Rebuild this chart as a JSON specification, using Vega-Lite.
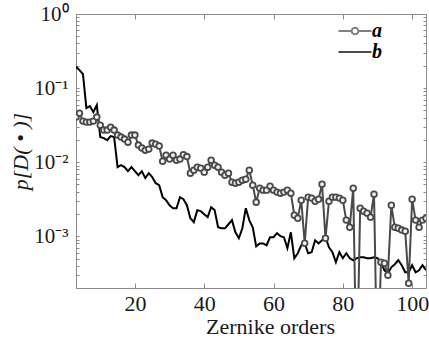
{
  "$schema": "https://vega.github.io/schema/vega-lite/v6.json",
  "width": 350,
  "height": 274,
  "autosize": {"type": "none"},
  "padding": {"left": 76, "top": 14, "right": 3, "bottom": 53},
  "background": "white",
  "config": {
    "font": "Liberation Serif",
    "view": {"stroke": "#8c8c8c", "strokeWidth": 1},
    "axis": {"domain": false, "grid": false, "labelFont": "Liberation Serif", "titleFont": "Liberation Serif", "labelColor": "#1a1a1a", "titleColor": "#1a1a1a", "tickColor": "#8c8c8c"},
    "legend": {"labelFont": "Liberation Serif"}
  },
  "datasets": {
    "rows": [
      {"order":3,"p":0.194,"series":"b"},{"order":4,"p":0.175,"series":"b"},{"order":5,"p":0.155,"series":"b"},{"order":6,"p":0.0537,"series":"b"},{"order":7,"p":0.0571,"series":"b"},{"order":8,"p":0.0474,"series":"b"},{"order":9,"p":0.0589,"series":"b"},{"order":10,"p":0.0218,"series":"b"},{"order":11,"p":0.0211,"series":"b"},{"order":12,"p":0.0198,"series":"b"},{"order":13,"p":0.0225,"series":"b"},{"order":14,"p":0.0218,"series":"b"},{"order":15,"p":0.00856,"series":"b"},{"order":16,"p":0.0091,"series":"b"},{"order":17,"p":0.00856,"series":"b"},{"order":18,"p":0.00755,"series":"b"},{"order":19,"p":0.00856,"series":"b"},{"order":20,"p":0.00755,"series":"b"},{"order":21,"p":0.00667,"series":"b"},{"order":22,"p":0.00755,"series":"b"},{"order":23,"p":0.00608,"series":"b"},{"order":24,"p":0.0071,"series":"b"},{"order":25,"p":0.00627,"series":"b"},{"order":26,"p":0.0052,"series":"b"},{"order":27,"p":0.00489,"series":"b"},{"order":28,"p":0.00337,"series":"b"},{"order":29,"p":0.00306,"series":"b"},{"order":30,"p":0.00262,"series":"b"},{"order":31,"p":0.00239,"series":"b"},{"order":32,"p":0.00239,"series":"b"},{"order":33,"p":0.00337,"series":"b"},{"order":34,"p":0.00316,"series":"b"},{"order":35,"p":0.00262,"series":"b"},{"order":36,"p":0.00175,"series":"b"},{"order":37,"p":0.00155,"series":"b"},{"order":38,"p":0.00225,"series":"b"},{"order":39,"p":0.00218,"series":"b"},{"order":40,"p":0.00198,"series":"b"},{"order":41,"p":0.00181,"series":"b"},{"order":42,"p":0.00247,"series":"b"},{"order":43,"p":0.00225,"series":"b"},{"order":44,"p":0.00132,"series":"b"},{"order":45,"p":0.00128,"series":"b"},{"order":46,"p":0.00128,"series":"b"},{"order":47,"p":0.00145,"series":"b"},{"order":48,"p":0.00165,"series":"b"},{"order":49,"p":0.00113,"series":"b"},{"order":50,"p":0.00094,"series":"b"},{"order":51,"p":0.00128,"series":"b"},{"order":52,"p":0.00239,"series":"b"},{"order":53,"p":0.00165,"series":"b"},{"order":54,"p":0.00132,"series":"b"},{"order":55,"p":0.00073,"series":"b"},{"order":56,"p":0.0008,"series":"b"},{"order":57,"p":0.0008,"series":"b"},{"order":58,"p":0.000755,"series":"b"},{"order":59,"p":0.00097,"series":"b"},{"order":60,"p":0.00097,"series":"b"},{"order":61,"p":0.0011,"series":"b"},{"order":62,"p":0.001,"series":"b"},{"order":63,"p":0.00097,"series":"b"},{"order":64,"p":0.00069,"series":"b"},{"order":65,"p":0.00113,"series":"b"},{"order":66,"p":0.000505,"series":"b"},{"order":67,"p":0.000589,"series":"b"},{"order":68,"p":0.000755,"series":"b"},{"order":69,"p":0.0008,"series":"b"},{"order":70,"p":0.000589,"series":"b"},{"order":71,"p":0.000608,"series":"b"},{"order":72,"p":0.000883,"series":"b"},{"order":73,"p":0.0008,"series":"b"},{"order":74,"p":0.000883,"series":"b"},{"order":75,"p":0.00097,"series":"b"},{"order":76,"p":0.00071,"series":"b"},{"order":77,"p":0.000608,"series":"b"},{"order":78,"p":0.000446,"series":"b"},{"order":79,"p":0.000608,"series":"b"},{"order":80,"p":0.000505,"series":"b"},{"order":81,"p":0.000589,"series":"b"},{"order":82,"p":0.000505,"series":"b"},{"order":83,"p":0.000474,"series":"b"},{"order":84,"p":0.000505,"series":"b"},{"order":85,"p":0.00052,"series":"b"},{"order":86,"p":0.00052,"series":"b"},{"order":87,"p":0.000505,"series":"b"},{"order":88,"p":0.000505,"series":"b"},{"order":89,"p":0.00052,"series":"b"},{"order":90,"p":0.000505,"series":"b"},{"order":91,"p":0.000446,"series":"b"},{"order":92,"p":0.000347,"series":"b"},{"order":93,"p":0.000316,"series":"b"},{"order":94,"p":0.000381,"series":"b"},{"order":95,"p":0.000419,"series":"b"},{"order":96,"p":0.000474,"series":"b"},{"order":97,"p":0.000406,"series":"b"},{"order":98,"p":0.000326,"series":"b"},{"order":99,"p":0.000326,"series":"b"},{"order":100,"p":0.000406,"series":"b"},{"order":101,"p":0.000326,"series":"b"},{"order":102,"p":0.000347,"series":"b"},{"order":103,"p":0.000406,"series":"b"},{"order":104,"p":0.000347,"series":"b"},
      {"order":3,"p":0.0406,"series":"a"},{"order":4,"p":0.0459,"series":"a"},{"order":5,"p":0.0358,"series":"a"},{"order":6,"p":0.0347,"series":"a"},{"order":7,"p":0.0347,"series":"a"},{"order":8,"p":0.0358,"series":"a"},{"order":9,"p":0.0406,"series":"a"},{"order":10,"p":0.0316,"series":"a"},{"order":11,"p":0.0271,"series":"a"},{"order":12,"p":0.0271,"series":"a"},{"order":13,"p":0.0297,"series":"a"},{"order":14,"p":0.0271,"series":"a"},{"order":15,"p":0.0232,"series":"a"},{"order":16,"p":0.0218,"series":"a"},{"order":17,"p":0.0205,"series":"a"},{"order":18,"p":0.0186,"series":"a"},{"order":19,"p":0.0232,"series":"a"},{"order":20,"p":0.0232,"series":"a"},{"order":21,"p":0.017,"series":"a"},{"order":22,"p":0.0155,"series":"a"},{"order":23,"p":0.0145,"series":"a"},{"order":24,"p":0.015,"series":"a"},{"order":25,"p":0.0181,"series":"a"},{"order":26,"p":0.0175,"series":"a"},{"order":27,"p":0.0165,"series":"a"},{"order":28,"p":0.0103,"series":"a"},{"order":29,"p":0.0124,"series":"a"},{"order":30,"p":0.011,"series":"a"},{"order":31,"p":0.0124,"series":"a"},{"order":32,"p":0.0106,"series":"a"},{"order":33,"p":0.011,"series":"a"},{"order":34,"p":0.0126,"series":"a"},{"order":35,"p":0.0119,"series":"a"},{"order":36,"p":0.0071,"series":"a"},{"order":37,"p":0.0078,"series":"a"},{"order":38,"p":0.00856,"series":"a"},{"order":39,"p":0.0083,"series":"a"},{"order":40,"p":0.00733,"series":"a"},{"order":41,"p":0.00856,"series":"a"},{"order":42,"p":0.0106,"series":"a"},{"order":43,"p":0.0091,"series":"a"},{"order":44,"p":0.00856,"series":"a"},{"order":45,"p":0.00733,"series":"a"},{"order":46,"p":0.00667,"series":"a"},{"order":47,"p":0.0071,"series":"a"},{"order":48,"p":0.00537,"series":"a"},{"order":49,"p":0.0052,"series":"a"},{"order":50,"p":0.00537,"series":"a"},{"order":51,"p":0.00571,"series":"a"},{"order":52,"p":0.00589,"series":"a"},{"order":53,"p":0.0078,"series":"a"},{"order":54,"p":0.00489,"series":"a"},{"order":55,"p":0.00288,"series":"a"},{"order":56,"p":0.00445,"series":"a"},{"order":57,"p":0.00419,"series":"a"},{"order":58,"p":0.00419,"series":"a"},{"order":59,"p":0.00474,"series":"a"},{"order":60,"p":0.00419,"series":"a"},{"order":61,"p":0.00394,"series":"a"},{"order":62,"p":0.00381,"series":"a"},{"order":63,"p":0.00394,"series":"a"},{"order":64,"p":0.00419,"series":"a"},{"order":65,"p":0.00381,"series":"a"},{"order":66,"p":0.00192,"series":"a"},{"order":67,"p":0.00175,"series":"a"},{"order":68,"p":0.00306,"series":"a"},{"order":69,"p":0.000804,"series":"a"},{"order":70,"p":0.00337,"series":"a"},{"order":71,"p":0.00327,"series":"a"},{"order":72,"p":0.00297,"series":"a"},{"order":73,"p":0.00316,"series":"a"},{"order":74,"p":0.00505,"series":"a"},{"order":75,"p":0.00094,"series":"a"},{"order":76,"p":0.00297,"series":"a"},{"order":77,"p":0.00337,"series":"a"},{"order":78,"p":0.00337,"series":"a"},{"order":79,"p":0.00327,"series":"a"},{"order":80,"p":0.00306,"series":"a"},{"order":81,"p":0.00165,"series":"a"},{"order":82,"p":0.00132,"series":"a"},{"order":83,"p":0.00445,"series":"a"},{"order":84,"p":0.00001,"series":"a"},{"order":85,"p":0.00239,"series":"a"},{"order":86,"p":0.00218,"series":"a"},{"order":87,"p":0.00205,"series":"a"},{"order":88,"p":0.00181,"series":"a"},{"order":89,"p":0.0037,"series":"a"},{"order":90,"p":0.00001,"series":"a"},{"order":91,"p":0.000446,"series":"a"},{"order":92,"p":0.000432,"series":"a"},{"order":93,"p":0.000297,"series":"a"},{"order":94,"p":0.00262,"series":"a"},{"order":95,"p":0.00132,"series":"a"},{"order":96,"p":0.00128,"series":"a"},{"order":97,"p":0.00121,"series":"a"},{"order":98,"p":0.00117,"series":"a"},{"order":99,"p":0.000232,"series":"a"},{"order":100,"p":0.00316,"series":"a"},{"order":101,"p":0.00165,"series":"a"},{"order":102,"p":0.00132,"series":"a"},{"order":103,"p":0.00165,"series":"a"},{"order":104,"p":0.00175,"series":"a"}
    ]
  },
  "data": {"name": "rows"},
  "resolve": {"axis": {"x": "independent", "y": "independent"}},
  "layer": [
    {
      "transform": [{"filter": "datum.series == 'b'"}],
      "mark": {"type": "line", "color": "#000000", "strokeWidth": 2, "clip": true},
      "encoding": {
        "x": {"field": "order", "type": "quantitative", "scale": {"domain": [3, 104], "nice": false, "zero": false},
          "axis": {"orient": "bottom", "values": [20, 40, 60, 80, 100], "ticks": false, "labelPadding": 5, "labelFont": "Liberation Serif", "labelFontSize": 22, "labelBaseline": "top", "title": "Zernike orders", "titleFont": "Liberation Serif", "titleFontSize": 22, "titleFontWeight": "normal", "titleX": 194, "titleY": 45, "titleBaseline": "alphabetic", "titleAlign": "center"}},
        "y": {"field": "p", "type": "quantitative", "scale": {"type": "log", "domain": [0.0002, 1], "nice": false},
          "axis": {"orient": "left", "values": [0.001, 0.01, 0.1, 1], "ticks": false, "labelPadding": 8, "labelFont": "Liberation Serif", "labelFontSize": 21, "labelBaseline": "middle",
            "labelExpr": "datum.value >= 0.5 ? '10⁰' : datum.value >= 0.05 ? '10⁻¹' : datum.value >= 0.005 ? '10⁻²' : '10⁻³'",
            "title": "p[D( • )]", "titleFont": "Liberation Serif", "titleFontSize": 22, "titleFontStyle": "italic", "titleFontWeight": "normal", "titleX": -56, "titleY": 137, "titleAlign": "center", "titleBaseline": "middle", "titleAngle": -90}}
      }
    },
    {
      "transform": [{"filter": "datum.series == 'a'"}],
      "mark": {"type": "line", "color": "#4a4a4a", "strokeWidth": 2, "clip": true},
      "encoding": {
        "x": {"field": "order", "type": "quantitative", "scale": {"domain": [3, 104], "nice": false, "zero": false},
          "axis": {"orient": "top", "values": [20, 40, 60, 80, 100], "labels": false, "tickSize": -5, "title": null}},
        "y": {"field": "p", "type": "quantitative", "scale": {"type": "log", "domain": [0.0002, 1], "nice": false},
          "axis": {"orient": "right", "values": [0.0002,0.0003,0.0004,0.0005,0.0006,0.0007,0.0008,0.0009,0.001,0.002,0.003,0.004,0.005,0.006,0.007,0.008,0.009,0.01,0.02,0.03,0.04,0.05,0.06,0.07,0.08,0.09,0.1,0.2,0.3,0.4,0.5,0.6,0.7,0.8,0.9,1], "labels": false, "tickSize": -3, "title": null}}
      }
    },
    {
      "transform": [{"filter": "datum.series == 'a'"}],
      "mark": {"type": "point", "shape": "circle", "filled": true, "fill": "#f2f2f2", "stroke": "#4a4a4a", "strokeWidth": 1.8, "size": 32, "opacity": 1, "clip": true},
      "encoding": {
        "x": {"field": "order", "type": "quantitative", "scale": {"domain": [3, 104], "nice": false, "zero": false},
          "axis": {"orient": "bottom", "values": [20, 40, 60, 80, 100], "labels": false, "tickSize": -5, "title": null}},
        "y": {"field": "p", "type": "quantitative", "scale": {"type": "log", "domain": [0.0002, 1], "nice": false},
          "axis": {"orient": "left", "values": [0.0002,0.0003,0.0004,0.0005,0.0006,0.0007,0.0008,0.0009,0.001,0.002,0.003,0.004,0.005,0.006,0.007,0.008,0.009,0.01,0.02,0.03,0.04,0.05,0.06,0.07,0.08,0.09,0.1,0.2,0.3,0.4,0.5,0.6,0.7,0.8,0.9,1], "labels": false, "tickSize": -3, "title": null}}
      }
    },
    {
      "transform": [{"filter": "datum.order < 0"}],
      "mark": {"type": "point", "filled": false, "strokeWidth": 2},
      "encoding": {
        "x": {"field": "order", "type": "quantitative", "scale": {"domain": [3, 104], "nice": false, "zero": false}, "axis": null},
        "y": {"field": "p", "type": "quantitative", "scale": {"type": "log", "domain": [0.0002, 1], "nice": false}, "axis": null},
        "color": {"field": "series", "type": "nominal", "scale": {"domain": ["a", "b"], "range": ["#4a4a4a", "#000000"]},
          "legend": {"orient": "none", "legendX": 269, "legendY": 7, "title": null, "symbolSize": 272, "symbolStrokeWidth": 2, "labelFont": "Liberation Serif", "labelFontSize": 20, "labelFontStyle": "italic", "labelFontWeight": "bold", "labelColor": "#000000", "labelOffset": 7, "rowPadding": 1}},
        "shape": {"field": "series", "type": "nominal", "scale": {"domain": ["a", "b"], "range": ["M-2,0H-0.4M0.4,0H2M-0.4,0A0.4,0.4 0 1,1 0.4,0A0.4,0.4 0 1,1 -0.4,0", "M-2,0H2"]}}
      }
    }
  ]
}
